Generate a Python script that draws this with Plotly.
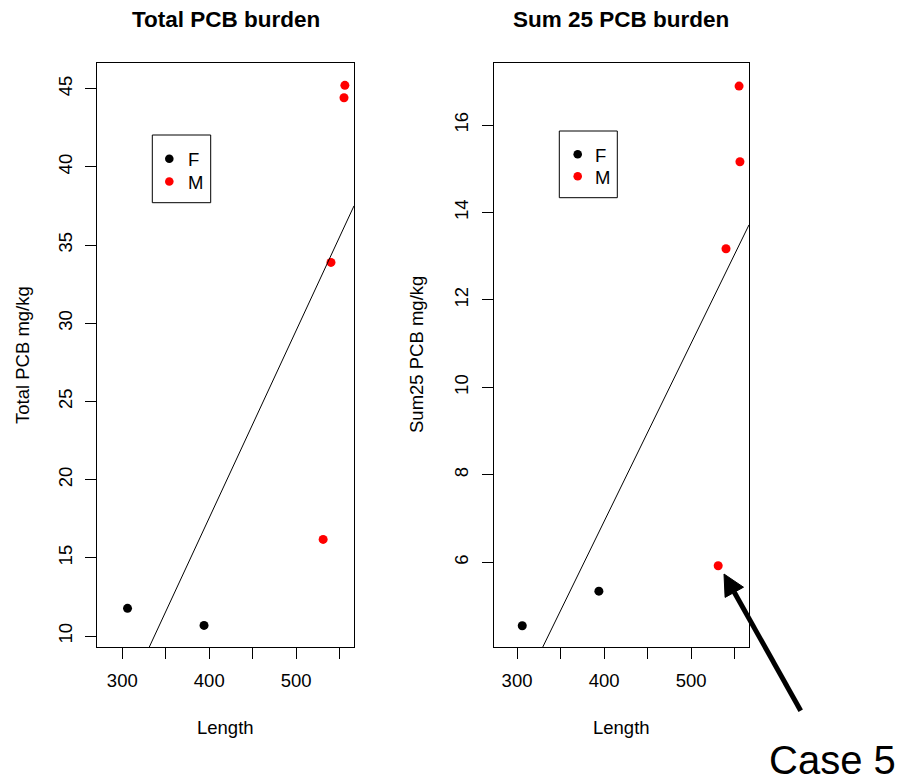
import plotly.graph_objects as go

# ---------------- data ----------------
length = [306, 394, 531, 540, 555, 556]
sex = ["F", "F", "M", "M", "M", "M"]
total_pcb = [11.77, 10.68, 16.18, 33.89, 44.42, 45.21]
sum25_pcb = [4.55, 5.34, 5.92, 13.17, 16.89, 15.16]
fit_total = (-30.36, 0.1198)      # intercept, slope
fit_sum25 = (-9.37, 0.04076)
x_ticks = [300, 350, 400, 450, 500, 550]
x_tick_labels = ["300", "", "400", "", "500", ""]
y_ticks_total = [10, 15, 20, 25, 30, 35, 40, 45]
y_ticks_sum25 = [6, 8, 10, 12, 14, 16]
groups = ["F", "M"]
group_colors = {"F": "black", "M": "red"}

# ---------------- layout helpers ----------------
W, H = 901, 783
def px(x):
    return x / W
def py(y):
    return 1 - y / H

FONT = "Liberation Sans, Arial, Helvetica, sans-serif"
TICK_SIZE = 18.5
TITLE_SIZE = 22.5

xr_left = [270.9, 566.5]
xr_right = [273.2, 566.4]
yr_total = [9.30, 46.64]
yr_sum25 = [4.063, 17.418]

fig = go.Figure()

panels = [
    ("x", "y", total_pcb, fit_total, xr_left),
    ("x2", "y2", sum25_pcb, fit_sum25, xr_right),
]
for xa, ya, yvals, fit, xr in panels:
    for g in groups:
        xs = [l for l, s in zip(length, sex) if s == g]
        ys = [v for v, s in zip(yvals, sex) if s == g]
        fig.add_trace(go.Scatter(
            x=xs, y=ys, mode="markers", name=g, xaxis=xa, yaxis=ya,
            marker=dict(color=group_colors[g], size=9, line=dict(width=0)),
            showlegend=False))
    a, b = fit
    fig.add_trace(go.Scatter(
        x=xr, y=[a + b * xr[0], a + b * xr[1]], mode="lines",
        line=dict(color="black", width=1), xaxis=xa, yaxis=ya,
        showlegend=False, hoverinfo="skip"))

axis_common = dict(
    showline=True, linecolor="black", linewidth=1, mirror=True,
    ticks="outside", ticklen=11, tickcolor="black", tickwidth=1,
    showgrid=False, zeroline=False,
    tickfont=dict(family=FONT, size=TICK_SIZE, color="black"),
)

ydom = [py(647), py(63)]
fig.update_layout(
    width=W, height=H, autosize=False,
    margin=dict(l=0, r=0, t=0, b=0, pad=0),
    paper_bgcolor="white", plot_bgcolor="white",
    font=dict(family=FONT, color="black"),
    showlegend=False,
    xaxis=dict(domain=[px(97), px(354)], range=xr_left, tickvals=x_ticks,
               ticktext=x_tick_labels, anchor="y", ticklabelstandoff=6, **axis_common),
    yaxis=dict(domain=ydom, range=yr_total, tickvals=y_ticks_total,
               tickangle=-90, anchor="x", ticklabelstandoff=6, **axis_common),
    xaxis2=dict(domain=[px(493.7), px(749)], range=xr_right, tickvals=x_ticks,
                ticktext=x_tick_labels, anchor="y2", ticklabelstandoff=6, **axis_common),
    yaxis2=dict(domain=ydom, range=yr_sum25, tickvals=y_ticks_sum25,
                tickangle=-90, anchor="x2", ticklabelstandoff=6, **axis_common),
)

annotations = [
    dict(text="<b>Total PCB burden</b>", x=px(225.5), y=py(19), font=dict(size=TITLE_SIZE)),
    dict(text="<b>Sum 25 PCB burden</b>", x=px(621.3), y=py(19), font=dict(size=TITLE_SIZE)),
    dict(text="Length", x=px(225.5), y=py(727), font=dict(size=TICK_SIZE)),
    dict(text="Length", x=px(621.3), y=py(727), font=dict(size=TICK_SIZE)),
    dict(text="Total PCB mg/kg", x=px(22), y=py(355), textangle=-90, font=dict(size=TICK_SIZE)),
    dict(text="Sum25 PCB mg/kg", x=px(416), y=py(355), textangle=-90, font=dict(size=TICK_SIZE)),
    dict(text="Case 5", x=px(767), y=py(760), xanchor="left", font=dict(size=40)),
]

# legend boxes (key for the groups), one per panel: box, marker centres, text left
legend_boxes = [
    ((152.3, 135, 210.7, 202.7), 169.3, 186, [158.7, 181.5]),
    ((559.3, 131, 617.3, 197.7), 577.7, 593, [154.3, 176.3]),
]
shapes = []
for (bx0, by0, bx1, by1), mx, tx, ys in legend_boxes:
    shapes.append(dict(type="rect", xref="paper", yref="paper",
                       x0=px(bx0), y0=py(by0), x1=px(bx1), y1=py(by1),
                       line=dict(color="black", width=1), fillcolor="white"))
    for g, yy in zip(groups, ys):
        r = 4.3
        shapes.append(dict(type="circle", xref="paper", yref="paper",
                           x0=px(mx - r), x1=px(mx + r), y0=py(yy + r), y1=py(yy - r),
                           fillcolor=group_colors[g], line=dict(width=0)))
        annotations.append(dict(text=g, x=px(tx), y=py(yy + 1), xanchor="left",
                                font=dict(size=TICK_SIZE)))

for a in annotations:
    a.setdefault("xanchor", "center")
    a.update(xref="paper", yref="paper", showarrow=False, yanchor="middle")
    a["font"] = dict(family=FONT, color="black", **a["font"])
fig.update_layout(annotations=annotations)

# arrow pointing at case 5 (drawn as shapes in paper coordinates)
tip = (724, 574)
tail = (800.7, 710.7)
base = (734.3, 592.3)
c1 = (743.5, 587.2)
c2 = (725.1, 597.4)
shapes.append(dict(type="line", xref="paper", yref="paper",
                   x0=px(tail[0]), y0=py(tail[1]), x1=px(base[0]), y1=py(base[1]),
                   line=dict(color="black", width=5)))
path = "M {} {} L {} {} L {} {} Z".format(px(tip[0]), py(tip[1]), px(c1[0]), py(c1[1]),
                                          px(c2[0]), py(c2[1]))
shapes.append(dict(type="path", xref="paper", yref="paper", path=path,
                   fillcolor="black", line=dict(color="black", width=1)))
fig.update_layout(shapes=shapes)

fig.write_html("out.html")
